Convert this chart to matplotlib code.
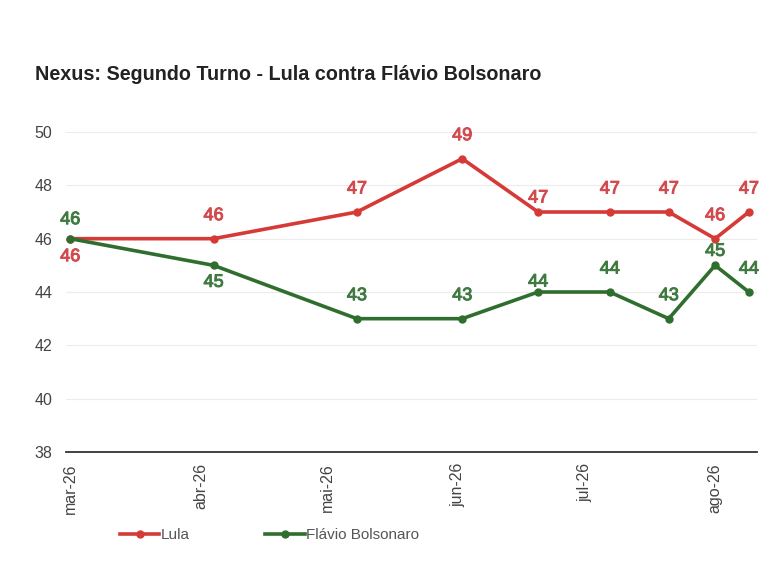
import matplotlib
matplotlib.use("Agg")
import matplotlib.pyplot as plt
import matplotlib.patheffects as pe
import numpy as np
import pandas as pd

# pesquisa Nexus, 2o turno
datas = ["2026-03-01", "2026-04-04", "2026-05-08", "2026-06-02", "2026-06-20",
         "2026-07-07", "2026-07-21", "2026-08-01", "2026-08-09"]
lula = [46, 46, 47, 49, 47, 47, 47, 46, 47]
flavio = [46, 45, 43, 43, 44, 44, 43, 45, 44]
meses = ["mar-26", "abr-26", "mai-26", "jun-26", "jul-26", "ago-26"]
meses_pos = ["2026-03-01", "2026-04-01", "2026-05-01", "2026-06-01", "2026-07-01", "2026-08-01"]

x = pd.to_datetime(datas)
red = "#d63a36"
green = "#2f6e2f"

plt.rcParams['font.family'] = ['Liberation Sans', 'DejaVu Sans']
fig = plt.figure(figsize=(7.68, 5.69), dpi=100)
ax = fig.add_axes([0.086, 0.2056, 0.9, 0.5624])

ax.plot(x, lula, color=red, lw=2.6, marker="o", ms=5, label="Lula", zorder=3)
ax.plot(x, flavio, color=green, lw=2.6, marker="o", ms=5, label="Flávio Bolsonaro", zorder=3)

# rotulos: em cima por padrao, alguns embaixo
for i, (d, v) in enumerate(zip(x, lula)):
    off = -18 if i == 0 else (14 if i == 4 else 23)
    ax.annotate(str(v), (d, v), xytext=(0, off), textcoords="offset pixels",
                ha="center", va="center", color="#d24a4d", fontsize=13,
                path_effects=[pe.withStroke(linewidth=0.7, foreground="#d24a4d")])
for i, (d, v) in enumerate(zip(x, flavio)):
    off = 19 if i == 0 else (-17 if i == 1 else (10 if i == 4 else (14 if i == 7 else 23)))
    ax.annotate(str(v), (d, v), xytext=(0, off), textcoords="offset pixels",
                ha="center", va="center", color="#3f7a40", fontsize=13,
                path_effects=[pe.withStroke(linewidth=0.7, foreground="#3f7a40")])

ax.set_ylim(38, 50)
ax.set_yticks(np.arange(38, 51, 2))
ax.set_xlim(pd.Timestamp("2026-02-28"), pd.Timestamp("2026-08-11"))
ax.set_xticks(pd.to_datetime(meses_pos))
ax.set_xticklabels(meses, rotation=90)
ax.tick_params(axis="both", length=0, colors="#444444")
ax.tick_params(axis="y", pad=10, labelsize=11.5)
ax.tick_params(axis="x", pad=8, labelsize=11.5)
ax.grid(axis="y", color="#ececec", lw=0.8)
ax.set_axisbelow(True)
for s in ["top", "right", "left"]:
    ax.spines[s].set_visible(False)
ax.spines["bottom"].set_color("#333333")
ax.spines["bottom"].set_linewidth(1.3)

fig.text(35 / 768, 1 - 75 / 569, "Nexus: Segundo Turno - Lula contra Flávio Bolsonaro",
         fontsize=14.2, fontweight="bold", color="#222222", va="center", ha="left")

fig.legend(loc="center left", bbox_to_anchor=(106 / 768, 1 - 535 / 569), ncol=2,
           frameon=False, handlelength=2.6, handletextpad=0.1, columnspacing=4.9,
           fontsize=11, labelcolor="#555555")

fig.savefig("out.png", dpi=100)
